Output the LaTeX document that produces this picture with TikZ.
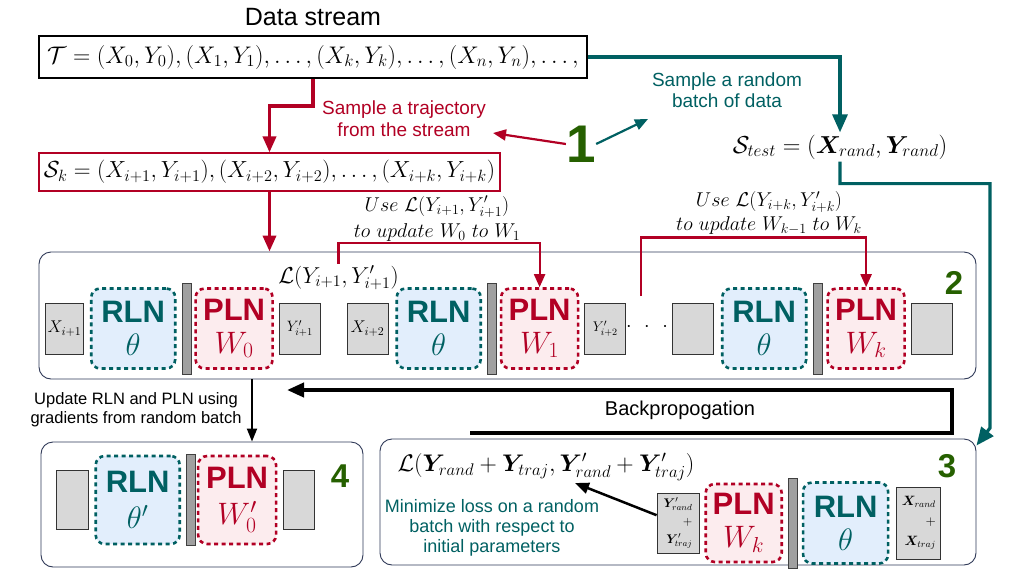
\RequirePackage{fix-cm}
\documentclass[tikz,border=0pt]{standalone}
\usepackage{bm}
\usepackage{fontspec}
\setsansfont{Liberation Sans}
\usetikzlibrary{arrows.meta,positioning}

\definecolor{tealc}{RGB}{0,96,98}
\definecolor{redc}{RGB}{178,0,36}
\definecolor{greenc}{RGB}{38,96,0}
\definecolor{rlnfill}{RGB}{226,238,252}
\definecolor{plnfill}{RGB}{252,236,238}
\definecolor{boxgray}{RGB}{216,216,216}
\definecolor{bargray}{RGB}{160,160,160}
\definecolor{navy}{RGB}{48,58,88}

\begin{document}
\begin{tikzpicture}[x=1pt, y=-1pt, thick, inner sep=2pt, >={Triangle[length=15pt,width=12pt]}]
				\tikzset{
					rln/.style={draw=tealc, fill=rlnfill, line width=2.6pt, dash pattern=on 4pt off 3.5pt, rounded corners=9pt,
						minimum width=84pt, minimum height=80pt, inner sep=0pt, text=tealc, align=center, font=\fontsize{31}{33}\selectfont},
					pln/.style={rln, draw=redc, fill=plnfill, text=redc, minimum width=77pt},
					divider/.style={draw=black!75, fill=bargray, line width=0.8pt, minimum width=9pt, minimum height=91pt, inner sep=0pt},
					io/.style={draw=black!80, fill=boxgray, line width=0.8pt, minimum width=41pt, minimum height=51pt, inner sep=0pt, font=\fontsize{17}{17}\selectfont},
					phase/.style={draw=navy, line width=0.9pt, rounded corners=12pt},
					num/.style={text=greenc, inner sep=0pt, font=\sffamily\bfseries\fontsize{33}{33}\selectfont},
					lbl/.style={align=center, font=\sffamily\fontsize{19}{22}\selectfont},
					math/.style={font=\fontsize{23}{23}\selectfont},
					redthick/.style={->, draw=redc, line width=3.5pt, >={Triangle[length=16pt,width=13pt]}},
					redthin/.style={->, draw=redc, line width=2.2pt, >={Triangle[length=13pt,width=11pt]}},
					tealthick/.style={->, draw=tealc, line width=3.2pt, >={Triangle[length=18pt,width=15pt]}},
					blackthick/.style={->, draw=black, line width=4pt, >={Triangle[length=17pt,width=14pt]}}
				}
				\fill[white] (0,0) rectangle (1013,576);
				\useasboundingbox (0,0) rectangle (1013,576);

				%DATOS
				\node[font=\sffamily\fontsize{25}{25}\selectfont] (title) at (313,17) {Data stream};
				\node[draw, line width=2pt, minimum width=548pt, minimum height=42pt, font=\fontsize{24}{24}\selectfont] (stream) at (313,57)
					{$\mathcal{T} = (X_0, Y_0), (X_1, Y_1), \dots, (X_k, Y_k), \dots, (X_n, Y_n), \dots,$};
				\node[draw=redc, line width=1.1pt, minimum width=461pt, minimum height=38pt, font=\fontsize{23.3}{24}\selectfont] (traj) at (269.5,172)
					{$\mathcal{S}_k = (X_{i+1}, Y_{i+1}), (X_{i+2}, Y_{i+2}), \dots, (X_{i+k}, Y_{i+k})$};
				\node[lbl, text=redc] (trajlbl) at (404,119) {Sample a trajectory\\from the stream};
				\node[lbl, text=tealc, font=\sffamily\fontsize{19}{21}\selectfont] (randlbl) at (727,90) {Sample a random\\batch of data};
				\node[num, font=\sffamily\bfseries\fontsize{53}{53}\selectfont] (one) at (581,144) {1};
				\node[math, font=\fontsize{24.5}{25}\selectfont] (test) at (840,147) {$\mathcal{S}_{test} = (\bm{X}_{rand}, \bm{Y}_{rand})$};
				\coordinate (trajtip) at (493,133);
				\coordinate (randtip) at (648,119);

				%FASE 2
				\node[phase, minimum width=937pt, minimum height=127pt] (inner) at (507.5,315.5) {};
				\node[num] (two) at (954,283) {2};
				\node[font=\fontsize{20}{26}\selectfont, align=center] (useA) at (437,218.5) {$Use\ \mathcal{L}(Y_{i+1}, Y'_{i+1})$\\$to\ update\ W_0\ to\ W_1$};
				\node[font=\fontsize{20}{24}\selectfont, align=center] (useK) at (769,213.5) {$Use\ \mathcal{L}(Y_{i+k}, Y'_{i+k})$\\$to\ update\ W_{k-1}\ to\ W_k$};
				\node[math] (lossA) at (338.5,278) {$\mathcal{L}(Y_{i+1}, Y'_{i+1})$};
				\coordinate (lossK) at (641,296);

				\node[io, minimum width=38pt] (xA) at (64.5,328.5) {$X_{i+1}$};
				\node[rln] (rlnA) [right=6pt of xA] {{\sffamily\bfseries RLN}\\$\theta$};
				\node[divider] (barA) [right=5pt of rlnA] {};
				\node[pln] (plnA) [right=3pt of barA] {{\sffamily\bfseries PLN}\\$W_0$};
				\node[io, font=\fontsize{15}{15}\selectfont] (yA) [right=5pt of plnA] {$Y'_{i+1}$};

				\node[io] (xB) at (367.5,328.5) {$X_{i+2}$};
				\node[rln] (rlnB) [right=7pt of xB] {{\sffamily\bfseries RLN}\\$\theta$};
				\node[divider] (barB) [right=5pt of rlnB] {};
				\node[pln] (plnB) [right=3pt of barB] {{\sffamily\bfseries PLN}\\$W_1$};
				\node[io, font=\fontsize{14}{14}\selectfont] (yB) [right=5pt of plnB] {$Y'_{i+2}$};
				\node[font=\fontsize{20}{20}\selectfont, inner sep=0pt] (dots) at (647,327) {${\cdot}\hspace{12.5pt}{\cdot}\hspace{12.5pt}{\cdot}$};

				\node[io] (xK) at (693,328.5) {};
				\node[rln] (rlnK) [right=7pt of xK] {{\sffamily\bfseries RLN}\\$\theta$};
				\node[divider] (barK) [right=5pt of rlnK] {};
				\node[pln] (plnK) [right=4pt of barK] {{\sffamily\bfseries PLN}\\$W_k$};
				\node[io] (yK) [right=5pt of plnK] {};

				%FASE 3
				\node[phase, minimum width=596pt, minimum height=126pt] (meta) at (678,502) {};
				\node[num] (three) at (947,466) {3};
				\node[math, font=\fontsize{24}{24}\selectfont] (lossM) at (546,467) {$\mathcal{L}(\bm{Y}_{rand} + \bm{Y}_{traj}, \bm{Y}'_{rand} + \bm{Y}'_{traj})$};
				\node[lbl, text=tealc, font=\sffamily\fontsize{18}{20}\selectfont] (minlbl) at (492,528) {Minimize loss on a random\\batch with respect to\\initial parameters};
				\node[io, minimum width=42pt, minimum height=60pt, align=right, font=\fontsize{12.5}{18}\selectfont] (yM) at (678,523) {$\bm{Y}'_{rand}$\\$+$\\$\bm{Y}'_{traj}$};
				\node[pln, minimum width=76pt, minimum height=78pt] (plnM) [right=5pt of yM] {{\sffamily\bfseries PLN}\\$W_k$};
				\node[divider, minimum height=90pt] (barM) [right=5pt of plnM] {};
				\node[rln, minimum width=85pt, minimum height=81pt] (rlnM) [right=4pt of barM] {{\sffamily\bfseries RLN}\\$\theta$};
				\node[io, minimum width=44pt, minimum height=72pt, align=right, font=\fontsize{13.5}{20}\selectfont] (xM) [right=7pt of rlnM] {$\bm{X}_{rand}$\\$+$\\$\bm{X}_{traj}$};

				%FASE 4
				\node[phase, minimum width=322pt, minimum height=125pt] (final) at (202,504.5) {};
				\node[num] (four) at (340,476) {4};
				\node[io, minimum width=32pt, minimum height=59pt] (xF) at (72,500) {};
				\node[rln, minimum height=88pt, font=\fontsize{31}{36}\selectfont] (rlnF) [right=6pt of xF] {{\sffamily\bfseries RLN}\\$\theta'$};
				\node[divider] (barF) [right=5pt of rlnF] {};
				\node[pln, minimum width=78pt, minimum height=88pt, font=\fontsize{31}{36}\selectfont] (plnF) [right=1pt of barF] {{\sffamily\bfseries PLN}\\$W'_0$};
				\node[io, minimum width=31pt, minimum height=59pt] (yF) [right=6pt of plnF] {};

				\node[lbl, font=\sffamily\fontsize{16.5}{19}\selectfont] (updlbl) at (136,410) {Update RLN and PLN using\\gradients from random batch};
				\node[lbl, font=\sffamily\fontsize{20}{20}\selectfont] (bplbl) at (680,410) {Backpropogation};
				\coordinate (updx) at (252,0);
				\coordinate (bpstart) at (470,433);
				\coordinate (bpend) at (287,390);
				\coordinate (tealcorner) at (990,428);

				%FLECHAS
				\draw[redthick] (stream.south) -- ++(0,27) -| (traj.north);
				\draw[redthick] (traj.south) -- (traj.south |- inner.north);
				\draw[redthin] (one.west) -- (trajtip);
				\draw[->, draw=tealc, line width=2.2pt, >={Triangle[length=13pt,width=11pt]}] (one.east) -- (randtip);
				\draw[tealthick] (stream.east) -| (test.north);
				\draw[tealthick] (test.south) -- ++(0,22) -| (tealcorner) -- ([yshift=-7pt]meta.north east);
				\draw[redthin] (lossA.north) |- (useA.south) -| (plnB.north);
				\draw[redthin] (lossK) |- (useK.south) -| (plnK.north);
				\draw[blackthick] (bpstart) -- ++(482,0) |- (bpend);
				\draw[->, line width=2pt, >={Triangle[length=13pt,width=10pt]}] (inner.south -| updx) -- (final.north -| updx);
				\draw[->, line width=2.5pt, >={Triangle[length=14pt,width=11pt]}] (yM.160) -- ([xshift=29pt]lossM.south);
\end{tikzpicture}
\end{document}
